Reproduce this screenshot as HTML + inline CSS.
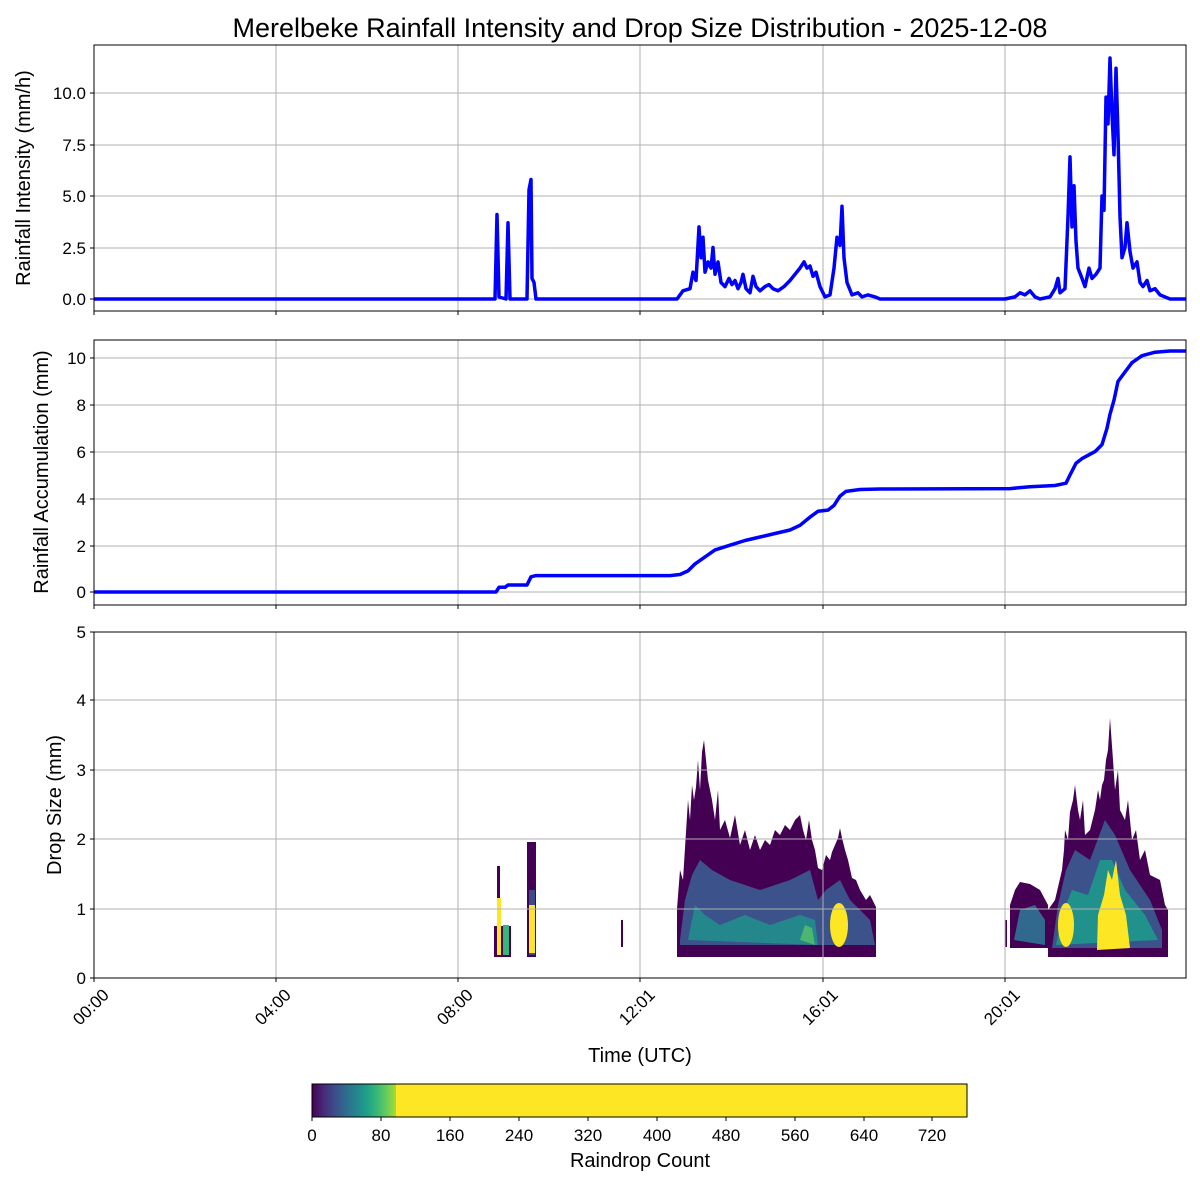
<!DOCTYPE html>
<html><head><meta charset="utf-8"><style>
html,body{margin:0;padding:0;background:#fff;overflow:hidden;width:1200px;height:1200px;}
svg{display:block;}
svg text{font-family:"Liberation Sans","DejaVu Sans",sans-serif;fill:#000;}
</style></head><body>
<svg width="1200" height="1200" viewBox="0 0 1200 1200" xmlns="http://www.w3.org/2000/svg">
<defs>
<linearGradient id="vir" x1="0" x2="1" y1="0" y2="0">
<stop offset="0" stop-color="#440154"/><stop offset="0.13" stop-color="#482878"/><stop offset="0.25" stop-color="#3e4989"/><stop offset="0.38" stop-color="#31688e"/><stop offset="0.5" stop-color="#26828e"/><stop offset="0.63" stop-color="#1f9e89"/><stop offset="0.75" stop-color="#35b779"/><stop offset="0.88" stop-color="#6ece58"/><stop offset="1" stop-color="#b5de2b"/>
</linearGradient>
</defs>
<text x="640" y="37" font-size="27" text-anchor="middle">Merelbeke Rainfall Intensity and Drop Size Distribution - 2025-12-08</text>

<!-- Panel 1 -->
<g stroke="#b0b0b0" stroke-width="1">
<line x1="276" y1="45" x2="276" y2="311"/><line x1="458" y1="45" x2="458" y2="311"/><line x1="640" y1="45" x2="640" y2="311"/><line x1="823" y1="45" x2="823" y2="311"/><line x1="1005" y1="45" x2="1005" y2="311"/>
<line x1="94" y1="299" x2="1186" y2="299"/><line x1="94" y1="248" x2="1186" y2="248"/><line x1="94" y1="196" x2="1186" y2="196"/><line x1="94" y1="145" x2="1186" y2="145"/><line x1="94" y1="93" x2="1186" y2="93"/>
</g>
<polyline fill="none" stroke="#0000ff" stroke-width="3.5" stroke-linejoin="round" points="94,299 495,299 497,214.5 499,297 506,299 508,222.8 510,299 527,299 529,189.8 531,179.5 532,278.4 534,282.5 536,299 677,299 683,290.8 690,288.7 693,272.2 696,280.5 699,226.9 701,257.8 703,237.2 705,272.2 708,261.9 711,268.1 713,247.5 715,274.3 718,261.9 721,282.5 725,286.6 729,278.4 732,284.6 735,280.5 738,288.7 741,282.5 743,274.3 746,288.7 750,292.8 753,276.3 756,286.6 760,290.8 765,286.6 769,284.6 773,288.7 778,290.8 784,286.6 790,280.5 795,274.3 800,268.1 804,261.9 807,268.1 810,266 813,276.3 816,272.2 820,286.6 825,296.9 830,294.9 834,268.1 837,237.2 840,245.4 842,206.3 844,257.8 847,282.5 852,294.9 858,292.8 862,296.9 868,294.9 875,296.9 880,299 1005,299 1015,296.9 1020,292.8 1025,294.9 1030,290.8 1035,296.9 1040,299 1050,296.9 1055,288.7 1058,278.4 1060,292.8 1065,288.7 1068,216.6 1070,156.9 1072,226.9 1074,185.7 1076,241.3 1078,268.1 1082,278.4 1085,286.6 1089,268.1 1092,278.4 1096,274.3 1100,268.1 1102,196 1104,210.4 1106,97.1 1108,123.9 1110,58 1112,113.6 1114,154.8 1116,68.3 1118,134.2 1120,216.6 1122,257.8 1125,247.5 1127,222.8 1130,251.6 1133,268.1 1137,261.9 1140,282.5 1143,286.6 1147,280.5 1150,290.8 1155,288.7 1160,294.9 1170,299 1186,299"/>
<rect x="94" y="45" width="1092" height="266" fill="none" stroke="#000" stroke-width="1"/>
<g font-size="17" text-anchor="end">
<text x="86" y="305">0.0</text><text x="86" y="254">2.5</text><text x="86" y="202">5.0</text><text x="86" y="151">7.5</text><text x="86" y="99">10.0</text>
</g>
<g stroke="#000"><line x1="90" y1="299" x2="94" y2="299"/><line x1="90" y1="248" x2="94" y2="248"/><line x1="90" y1="196" x2="94" y2="196"/><line x1="90" y1="145" x2="94" y2="145"/><line x1="90" y1="93" x2="94" y2="93"/>
<line x1="94" y1="311" x2="94" y2="315"/><line x1="276" y1="311" x2="276" y2="315"/><line x1="458" y1="311" x2="458" y2="315"/><line x1="640" y1="311" x2="640" y2="315"/><line x1="823" y1="311" x2="823" y2="315"/><line x1="1005" y1="311" x2="1005" y2="315"/></g>
<text transform="translate(30,178) rotate(-90)" font-size="20" text-anchor="middle">Rainfall Intensity (mm/h)</text>

<!-- Panel 2 -->
<g stroke="#b0b0b0" stroke-width="1">
<line x1="276" y1="340" x2="276" y2="605"/><line x1="458" y1="340" x2="458" y2="605"/><line x1="640" y1="340" x2="640" y2="605"/><line x1="823" y1="340" x2="823" y2="605"/><line x1="1005" y1="340" x2="1005" y2="605"/>
<line x1="94" y1="592" x2="1186" y2="592"/><line x1="94" y1="546" x2="1186" y2="546"/><line x1="94" y1="499" x2="1186" y2="499"/><line x1="94" y1="452" x2="1186" y2="452"/><line x1="94" y1="405" x2="1186" y2="405"/><line x1="94" y1="358" x2="1186" y2="358"/>
</g>
<polyline fill="none" stroke="#0000ff" stroke-width="3.5" stroke-linejoin="round" points="94,592 496,592 499,587.3 505,587.3 508,585 527,585 531,576.8 536,575.6 670,575.6 680,574.5 688,570.9 695,563.9 705,556.9 715,549.9 730,545.2 745,540.5 760,537 775,533.5 790,530 800,525.3 810,517.1 818,511.3 828,510.1 834,505.4 840,496.1 846,491.4 860,489.5 880,489 1010,488.6 1030,486.7 1055,485.5 1066,483.2 1070,475 1076,463.3 1082,458.6 1095,451.6 1102,444.6 1107,428.2 1110,414.2 1114,400.1 1118,381.4 1125,372 1132,362.7 1142,355.7 1155,352.2 1170,351 1186,351"/>
<rect x="94" y="340" width="1092" height="265" fill="none" stroke="#000" stroke-width="1"/>
<g font-size="17" text-anchor="end">
<text x="86" y="598">0</text><text x="86" y="552">2</text><text x="86" y="505">4</text><text x="86" y="458">6</text><text x="86" y="411">8</text><text x="86" y="364">10</text>
</g>
<g stroke="#000"><line x1="90" y1="592" x2="94" y2="592"/><line x1="90" y1="546" x2="94" y2="546"/><line x1="90" y1="499" x2="94" y2="499"/><line x1="90" y1="452" x2="94" y2="452"/><line x1="90" y1="405" x2="94" y2="405"/><line x1="90" y1="358" x2="94" y2="358"/>
<line x1="94" y1="605" x2="94" y2="609"/><line x1="276" y1="605" x2="276" y2="609"/><line x1="458" y1="605" x2="458" y2="609"/><line x1="640" y1="605" x2="640" y2="609"/><line x1="823" y1="605" x2="823" y2="609"/><line x1="1005" y1="605" x2="1005" y2="609"/></g>
<text transform="translate(48,472) rotate(-90)" font-size="20" text-anchor="middle">Rainfall Accumulation (mm)</text>

<!-- Panel 3 heatmap -->
<g>
<rect x="494" y="926" width="17" height="31" fill="#440154"/>
<rect x="497" y="866" width="3" height="91" fill="#440154"/>
<rect x="497" y="898" width="4" height="57" fill="#fde725"/>
<rect x="503" y="925" width="6" height="30" fill="#35b779"/>
<rect x="527" y="842" width="9" height="115" fill="#440154"/>
<rect x="529" y="890" width="6" height="65" fill="#3e4989"/>
<rect x="529" y="905" width="6" height="48" fill="#fde725"/>
<rect x="621" y="920" width="2" height="27" fill="#440154"/>
<polygon fill="#440154" points="677,909 680,870 683,880 685,848 688,800 690,820 692,785 694,800 696,787 698,760 700,790 702,752 704,740 706,760 708,780 710,790 712,800 715,820 718,790 720,830 725,820 730,838 735,815 740,845 745,830 750,850 755,835 760,850 765,840 770,845 775,830 780,835 785,825 790,830 795,820 800,815 803,830 806,840 809,820 812,840 815,850 818,868 822,870 826,855 830,860 832,852 835,845 838,838 840,828 842,838 845,850 848,860 852,878 856,880 860,890 866,900 870,895 876,907 876,957 677,957"/>
<polygon fill="#3b528b" points="680,940 685,900 692,875 700,860 712,870 730,880 760,890 790,880 810,870 818,900 826,890 840,880 850,900 870,920 875,945 680,945"/>
<polygon fill="#21918c" opacity="0.85" points="688,940 695,905 705,915 720,925 745,915 770,925 800,915 815,920 818,945"/>
<polygon fill="#5ec962" opacity="0.7" points="800,940 805,925 812,928 815,945"/>
<ellipse cx="839" cy="925" rx="9" ry="22" fill="#fde725"/>
<rect x="1005" y="920" width="2" height="27" fill="#440154"/>
<polygon fill="#440154" points="1010,905 1015,890 1020,882 1030,884 1040,890 1048,905 1048,948 1010,948"/>
<polygon fill="#31688e" points="1014,940 1020,910 1035,905 1045,920 1045,945"/>
<polygon fill="#440154" points="1048,957 1048,910 1055,900 1062,870 1064,850 1065,830 1068,840 1070,812 1073,800 1075,785 1078,810 1080,820 1083,800 1085,835 1090,830 1095,810 1098,790 1100,800 1102,785 1104,780 1106,760 1108,750 1110,718 1113,760 1115,790 1118,770 1120,810 1125,820 1128,800 1132,840 1136,830 1140,860 1145,850 1150,875 1160,880 1165,905 1168,910 1168,957"/>
<polygon fill="#3b528b" points="1052,948 1058,905 1066,870 1075,850 1090,860 1105,820 1115,835 1130,870 1150,900 1162,930 1162,948"/>
<polygon fill="#21918c" points="1056,945 1062,915 1072,890 1088,895 1100,860 1112,860 1125,890 1145,915 1158,940"/>
<ellipse cx="1066" cy="925" rx="8" ry="22" fill="#fde725"/>
<polygon fill="#fde725" points="1097,950 1098,915 1104,895 1108,870 1112,880 1116,860 1120,895 1126,915 1130,948"/>
</g>
<g stroke="#b0b0b0" stroke-width="1">
<line x1="276" y1="632" x2="276" y2="978"/><line x1="458" y1="632" x2="458" y2="978"/><line x1="640" y1="632" x2="640" y2="978"/><line x1="823" y1="632" x2="823" y2="978"/><line x1="1005" y1="632" x2="1005" y2="978"/>
<line x1="94" y1="909" x2="1186" y2="909"/><line x1="94" y1="839" x2="1186" y2="839"/><line x1="94" y1="770" x2="1186" y2="770"/><line x1="94" y1="700" x2="1186" y2="700"/>
</g>
<rect x="94" y="632" width="1092" height="346" fill="none" stroke="#000" stroke-width="1"/>
<g font-size="17" text-anchor="end">
<text x="86" y="984">0</text><text x="86" y="915">1</text><text x="86" y="845">2</text><text x="86" y="776">3</text><text x="86" y="706">4</text><text x="86" y="638">5</text>
</g>
<g stroke="#000"><line x1="90" y1="978" x2="94" y2="978"/><line x1="90" y1="909" x2="94" y2="909"/><line x1="90" y1="839" x2="94" y2="839"/><line x1="90" y1="770" x2="94" y2="770"/><line x1="90" y1="700" x2="94" y2="700"/><line x1="90" y1="632" x2="94" y2="632"/>
<line x1="94" y1="978" x2="94" y2="982"/><line x1="276" y1="978" x2="276" y2="982"/><line x1="458" y1="978" x2="458" y2="982"/><line x1="640" y1="978" x2="640" y2="982"/><line x1="823" y1="978" x2="823" y2="982"/><line x1="1005" y1="978" x2="1005" y2="982"/></g>
<text transform="translate(61,805) rotate(-90)" font-size="20" text-anchor="middle">Drop Size (mm)</text>
<g font-size="17" text-anchor="end">
<text transform="translate(110,996) rotate(-45)">00:00</text>
<text transform="translate(292,996) rotate(-45)">04:00</text>
<text transform="translate(474,996) rotate(-45)">08:00</text>
<text transform="translate(656,996) rotate(-45)">12:01</text>
<text transform="translate(839,996) rotate(-45)">16:01</text>
<text transform="translate(1021,996) rotate(-45)">20:01</text>
</g>
<text x="640" y="1062" font-size="20" text-anchor="middle">Time (UTC)</text>

<rect x="312" y="1084" width="86" height="33" fill="url(#vir)"/>
<rect x="396" y="1084" width="571" height="33" fill="#fde725"/>
<rect x="312" y="1084" width="655" height="33" fill="none" stroke="#000" stroke-width="1"/>
<g stroke="#000">
<line x1="312" y1="1117" x2="312" y2="1121"/><line x1="381" y1="1117" x2="381" y2="1121"/><line x1="450" y1="1117" x2="450" y2="1121"/><line x1="519" y1="1117" x2="519" y2="1121"/><line x1="588" y1="1117" x2="588" y2="1121"/><line x1="657" y1="1117" x2="657" y2="1121"/><line x1="726" y1="1117" x2="726" y2="1121"/><line x1="795" y1="1117" x2="795" y2="1121"/><line x1="864" y1="1117" x2="864" y2="1121"/><line x1="932" y1="1117" x2="932" y2="1121"/>
</g>
<g font-size="17" text-anchor="middle">
<text x="312" y="1141">0</text><text x="381" y="1141">80</text><text x="450" y="1141">160</text><text x="519" y="1141">240</text><text x="588" y="1141">320</text><text x="657" y="1141">400</text><text x="726" y="1141">480</text><text x="795" y="1141">560</text><text x="864" y="1141">640</text><text x="932" y="1141">720</text>
</g>
<text x="640" y="1167" font-size="20" text-anchor="middle">Raindrop Count</text>
</svg>
</body></html>
